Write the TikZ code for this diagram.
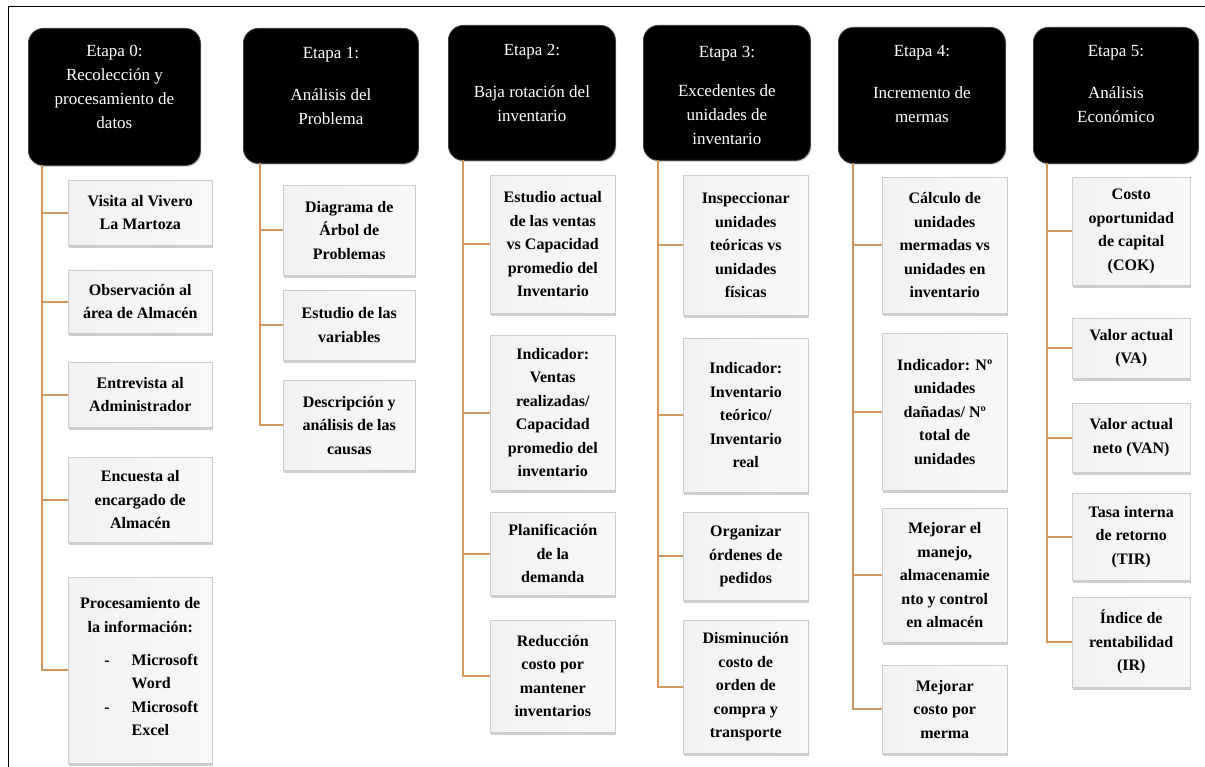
\documentclass[tikz,border=0pt]{standalone}
\usepackage{fontspec}
\setmainfont{Liberation Serif}
\usetikzlibrary{shadows}
\definecolor{conncol}{RGB}{210,150,95}
\pgfdeclarehorizontalshading{bevelshade}{100bp}{color(0bp)=(black!38); color(3bp)=(black!24); color(12bp)=(black!6); color(88bp)=(black!2); color(96bp)=(black!8); color(100bp)=(black!16)}
\begin{document}
\begin{tikzpicture}[x=1pt,y=-1pt,
  hdr/.style={rounded corners=15pt, fill=black, draw=black!75, line width=0.8pt,
    text=white, align=center, inner sep=0pt, anchor=north west,
    font=\fontsize{17}{24}\selectfont, text depth=20pt,
    drop shadow={opacity=0.3, shadow xshift=1pt, shadow yshift=-1.5pt}},
  child/.style={draw=gray!40, line width=0.5pt, shading=bevelshade, align=center,
    inner sep=0pt, anchor=north west,
    font=\bfseries\fontsize{16}{23.5}\selectfont,
    drop shadow={opacity=0.55, shadow xshift=1.2pt, shadow yshift=-2.6pt, fill=gray!70}},
  conn/.style={draw=conncol, line width=2.4pt}
]
\useasboundingbox (0,0) rectangle (1205,767);
\fill[white] (0,0) rectangle (1205,767);
\draw[line width=1.8pt] (8.5,767) -- (8.5,6.5) -- (1205,6.5);

% headers
\node[hdr, minimum width=172pt, minimum height=137pt] (h0) at (28,28) {Etapa 0:\\Recolección y\\procesamiento de\\datos};
\node[hdr, minimum width=175pt, minimum height=135pt] (h1) at (243,28) {Etapa 1:\\[18pt]Análisis del\\Problema};
\node[hdr, minimum width=167pt, minimum height=135pt] (h2) at (448,25) {Etapa 2:\\[18pt]Baja rotación del\\inventario};
\node[hdr, minimum width=167pt, minimum height=135pt, text depth=5pt] (h3) at (643,25) {\rule{0pt}{22pt}Etapa 3:\\[15pt]Excedentes de\\unidades de\\inventario};
\node[hdr, minimum width=167pt, minimum height=136pt, text depth=22pt] (h4) at (838,27) {Etapa 4:\\[18pt]Incremento de\\mermas};
\node[hdr, minimum width=165pt, minimum height=136pt, text depth=22pt] (h5) at (1033,27) {Etapa 5:\\[18pt]Análisis\\Económico};

% column 0
\node[child, minimum width=144pt, minimum height=65pt] (c0a) at (68,180) {Visita al Vivero\\La Martoza};
\node[child, minimum width=144pt, minimum height=63pt] (c0b) at (68,270) {Observación al\\área de Almacén};
\node[child, minimum width=144pt, minimum height=65pt] (c0c) at (68,362) {Entrevista al\\Administrador};
\node[child, minimum width=144pt, minimum height=85pt] (c0d) at (68,457) {Encuesta al\\encargado de\\Almacén};
\node[child, minimum width=144pt, minimum height=186pt] (c0e) at (68,577) {Procesamiento de\\la información:\\[15pt]\hspace*{22pt}\begin{tabular}{@{}c@{\hspace{22pt}}l@{}}-&Microsoft\\&Word\\-&Microsoft\\&Excel\end{tabular}};

% column 1
\node[child, minimum width=132pt, minimum height=90pt] (c1a) at (283,185) {Diagrama de\\Árbol de\\Problemas};
\node[child, minimum width=132pt, minimum height=70pt] (c1b) at (283,290) {Estudio de las\\variables};
\node[child, minimum width=132pt, minimum height=90pt] (c1c) at (283,380) {Descripción y\\análisis de las\\causas};

% column 2
\node[child, minimum width=125pt, minimum height=138pt] (c2a) at (490,175) {Estudio actual\\de las ventas\\vs Capacidad\\promedio del\\Inventario};
\node[child, minimum width=125pt, minimum height=155pt] (c2b) at (490,335) {Indicador:\\Ventas\\realizadas/\\Capacidad\\promedio del\\inventario};
\node[child, minimum width=125pt, minimum height=83pt] (c2c) at (490,512) {Planificación\\de la\\demanda};
\node[child, minimum width=125pt, minimum height=112pt] (c2d) at (490,620) {Reducción\\costo por\\mantener\\inventarios};

% column 3
\node[child, minimum width=125pt, minimum height=140pt] (c3a) at (683,175) {Inspeccionar\\unidades\\teóricas vs\\unidades\\físicas};
\node[child, minimum width=125pt, minimum height=154pt] (c3b) at (683,338) {Indicador:\\Inventario\\teórico/\\Inventario\\real};
\node[child, minimum width=125pt, minimum height=88pt] (c3c) at (683,512) {Organizar\\órdenes de\\pedidos};
\node[child, minimum width=125pt, minimum height=133pt] (c3d) at (683,620) {Disminución\\costo de\\orden de\\compra y\\transporte};

% column 4
\node[child, minimum width=125pt, minimum height=136pt] (c4a) at (882,177) {Cálculo de\\unidades\\mermadas vs\\unidades en\\inventario};
\node[child, minimum width=125pt, minimum height=157pt] (c4b) at (882,333) {Indicador: Nº\\unidades\\dañadas/ Nº\\total de\\unidades};
\node[child, minimum width=125pt, minimum height=134pt] (c4c) at (882,508) {Mejorar el\\manejo,\\almacenamie\\nto y control\\en almacén};
\node[child, minimum width=125pt, minimum height=88pt] (c4d) at (882,665) {Mejorar\\costo por\\merma};

% column 5
\node[child, minimum width=118pt, minimum height=108pt] (c5a) at (1072,177) {Costo\\oportunidad\\de capital\\(COK)};
\node[child, minimum width=118pt, minimum height=60pt] (c5b) at (1072,318) {Valor actual\\(VA)};
\node[child, minimum width=118pt, minimum height=69pt] (c5c) at (1072,403) {Valor actual\\neto (VAN)};
\node[child, minimum width=118pt, minimum height=87pt] (c5d) at (1072,493) {Tasa interna\\de retorno\\(TIR)};
\node[child, minimum width=118pt, minimum height=90pt] (c5e) at (1072,597) {Índice de\\rentabilidad\\(IR)};

% spines
\coordinate (s0) at (42,165);
\coordinate (s1) at (260,163);
\coordinate (s2) at (463,160);
\coordinate (s3) at (658,160);
\coordinate (s4) at (853,163);
\coordinate (s5) at (1047,163);

\foreach \c in {c0a,c0b,c0c,c0d,c0e} \draw[conn] (s0) |- (\c.west);
\foreach \c in {c1a,c1b,c1c} \draw[conn] (s1) |- (\c.west);
\foreach \c in {c2a,c2b,c2c,c2d} \draw[conn] (s2) |- (\c.west);
\foreach \c in {c3a,c3b,c3c,c3d} \draw[conn] (s3) |- (\c.west);
\foreach \c in {c4a,c4b,c4c,c4d} \draw[conn] (s4) |- (\c.west);
\foreach \c in {c5a,c5b,c5c,c5d,c5e} \draw[conn] (s5) |- (\c.west);
\end{tikzpicture}
\end{document}
